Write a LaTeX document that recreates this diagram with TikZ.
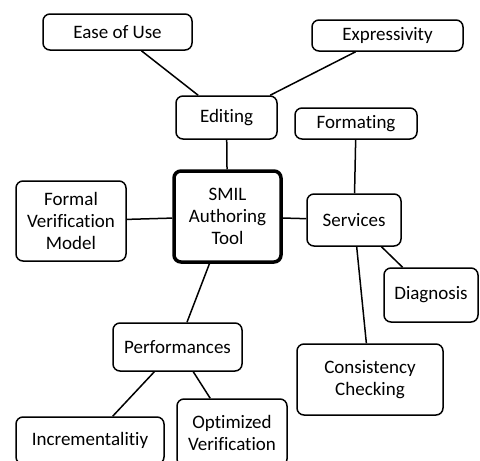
\documentclass[tikz,border=0pt]{standalone}
\usepackage{fontspec}
\setmainfont[Ligatures=NoCommon,RawFeature={-liga;-clig}]{Carlito}
\begin{document}
\begin{tikzpicture}[x=1pt,y=-1pt,
  box/.style={draw=black,line width=1.5pt,rounded corners=7pt,fill=white,
    inner sep=0pt,align=center,font=\fontsize{19}{22}\selectfont},
  link/.style={draw=black,line width=1.5pt}]
\useasboundingbox (0,0) rectangle (480,461);
\clip (0,0) rectangle (480,461);
\node[box,minimum width=149pt,minimum height=36pt] (ease) at (117.5,32) {Ease of Use};
\node[box,minimum width=151pt,minimum height=31pt] (expr) at (387.5,35.5) {Expressivity};
\node[box,minimum width=101pt,minimum height=43pt] (edit) at (226.5,117.5) {Editing};
\node[box,minimum width=122pt,minimum height=31pt] (form) at (356,123.5) {Formating};
\node[box,line width=3.5pt,minimum width=107pt,minimum height=91pt] (smil) at (227.5,216.5) {SMIL\\Authoring\\Tool};
\node[box,minimum width=110pt,minimum height=80pt] (fvm) at (71,221) {Formal\\Verification\\Model};
\node[box,minimum width=94pt,minimum height=52pt] (serv) at (354,220) {Services};
\node[box,minimum width=94pt,minimum height=54pt] (diag) at (431,295) {Diagnosis};
\node[box,minimum width=129pt,minimum height=48pt] (perf) at (177.5,347) {Performances};
\node[box,minimum width=146pt,minimum height=71pt] (cons) at (370,379.5) {Consistency\\Checking};
\node[box,minimum width=148pt,minimum height=47pt] (incr) at (90,440.5) {Incrementalitiy};
\node[box,minimum width=110pt,minimum height=67pt] (opt) at (232,432.5) {Optimized\\Verification};
\draw[link] (ease) -- (edit);
\draw[link] (expr) -- (edit);
\draw[link] (edit) -- (smil);
\draw[link] (form) -- (serv);
\draw[link] (fvm) -- (smil);
\draw[link] (smil) -- (serv);
\draw[link] (smil) -- (perf);
\draw[link] (serv) -- (diag);
\draw[link] (serv) -- (cons);
\draw[link] (perf) -- (incr);
\draw[link] (perf) -- (opt);
\end{tikzpicture}
\end{document}
